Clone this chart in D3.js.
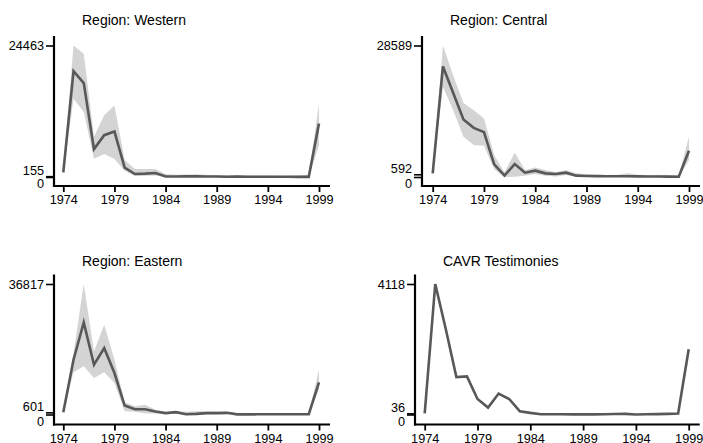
<!DOCTYPE html>
<html>
<head>
<meta charset="utf-8">
<script src="https://cdn.jsdelivr.net/npm/d3@7/dist/d3.min.js"></script>
<style>
  html, body { margin: 0; padding: 0; background: #fff; }
  svg { display: block; }
  .tick text { font-family: "Liberation Sans", Arial, sans-serif; font-size: 12.7px; fill: #000; }
  .title { font-family: "Liberation Sans", Arial, sans-serif; font-size: 14px; fill: #000; }
</style>
</head>
<body>
<svg id="chart" width="703" height="443"></svg>
<script>
// Years covered by every panel
const years = [1974, 1975, 1976, 1977, 1978, 1979, 1980, 1981, 1982, 1983, 1984, 1985, 1986,
               1987, 1988, 1989, 1990, 1991, 1992, 1993, 1994, 1995, 1996, 1997, 1998, 1999];
const xTickYears = [1974, 1979, 1984, 1989, 1994, 1999];

// Region: Western — estimate with lower / upper bounds
const westernEst   = [850, 19700, 17480, 5190, 7780, 8460, 1730, 560, 620, 740, 100, 100, 110,
                      110, 90, 80, 60, 70, 60, 50, 50, 40, 40, 30, 30, 9950];
const westernLow   = [500, 14580, 12110, 3400, 4260, 3340, 1170, 250, 250, 300, 0, 0, 0,
                      0, 0, 0, 0, 0, 0, 0, 0, 0, 0, 0, 0, 5930];
const westernHigh  = [1400, 24463, 22920, 7480, 11490, 13280, 3150, 1480, 1480, 1480, 560, 400, 450,
                      500, 400, 380, 300, 350, 300, 280, 260, 250, 240, 300, 450, 13650];
const westernTicks = [0, 155, 24463];

// Region: Central
const centralEst   = [800, 24040, 18270, 12490, 10690, 9750, 2740, 290, 2820, 940, 1370, 790, 650,
                      940, 290, 220, 180, 160, 160, 150, 130, 120, 100, 80, 60, 5700];
const centralLow   = [500, 19570, 14510, 8740, 6930, 6790, 1660, 0, 70, 290, 650, 290, 100,
                      430, 50, 20, 10, 10, 10, 10, 10, 0, 0, 0, 0, 3680];
const centralHigh  = [1200, 28589, 22090, 16100, 14510, 12710, 4770, 1010, 5270, 1520, 2090, 1520, 1010,
                      1520, 790, 580, 500, 450, 500, 790, 500, 450, 500, 400, 300, 8740];
const centralTicks = [0, 592, 28589];

// Region: Eastern
const easternEst   = [601, 15460, 25950, 14050, 18740, 11710, 2530, 1500, 1500, 840, 380, 660, 90,
                      190, 380, 380, 470, 40, 40, 50, 60, 70, 80, 90, 100, 9090];
const easternLow   = [300, 11900, 13580, 10300, 11900, 8900, 940, 750, 280, 280, 100, 200, 0,
                      0, 50, 50, 100, 0, 0, 0, 0, 0, 0, 0, 0, 7030];
const easternHigh  = [900, 17330, 36817, 17800, 25290, 15460, 3470, 2340, 2720, 1310, 660, 940, 800,
                      900, 900, 850, 800, 300, 250, 250, 250, 250, 300, 300, 400, 12650];
const easternTicks = [0, 601, 36817];

// CAVR testimonies — counts only, no interval
const cavrCounts   = [36, 4118, 2690, 1180, 1200, 490, 220, 660, 490, 105, 52, 10, 8,
                      6, 5, 4, 3, 10, 15, 20, 2, 8, 12, 20, 31, 2060];
const cavrTicks    = [0, 36, 4118];

const panels = [
  { title: "Region: Western", est: westernEst, low: westernLow, high: westernHigh, ticks: westernTicks,
    axisX: 54, x0: 63.3, x1: 319, yTop: 45.5, yZero: 177, axisY: 186, titleY: 24.5 },
  { title: "Region: Central", est: centralEst, low: centralLow, high: centralHigh, ticks: centralTicks,
    axisX: 422, x0: 432.7, x1: 689, yTop: 45.5, yZero: 177, axisY: 186, titleY: 24.5 },
  { title: "Region: Eastern", est: easternEst, low: easternLow, high: easternHigh, ticks: easternTicks,
    axisX: 54, x0: 63.3, x1: 319, yTop: 284, yZero: 414.5, axisY: 424.5, titleY: 265.5 },
  { title: "CAVR Testimonies", est: cavrCounts, low: null, high: null, ticks: cavrTicks,
    axisX: 415, x0: 424.7, x1: 688.7, yTop: 284, yZero: 414.5, axisY: 424.5, titleY: 265.5 }
];

const svg = d3.select("#chart");

panels.forEach(p => {
  const g = svg.append("g");
  const x = d3.scaleLinear().domain([1974, 1999]).range([p.x0, p.x1]);
  const y = d3.scaleLinear().domain([0, p.ticks[2]]).range([p.yZero, p.yTop]);

  // uncertainty band
  if (p.low) {
    const area = d3.area()
      .x((d, i) => x(years[i]))
      .y0((d, i) => y(p.low[i]))
      .y1((d, i) => y(p.high[i]));
    g.append("path").datum(p.est).attr("d", area)
      .attr("fill", "#d4d4d4").attr("stroke", "none");
  }

  // estimate line
  const line = d3.line().x((d, i) => x(years[i])).y(d => y(d));
  g.append("path").datum(p.est).attr("d", line)
    .attr("fill", "none").attr("stroke", "#585858")
    .attr("stroke-width", 2.6).attr("stroke-linejoin", "miter");

  // y axis (offset spine)
  const yAx = g.append("g").attr("transform", `translate(${p.axisX},0)`)
    .call(d3.axisLeft(y).tickValues(p.ticks).tickSize(8).tickPadding(2).tickFormat(d3.format("d")));
  yAx.select(".domain").remove();
  yAx.selectAll(".tick line").attr("stroke", "#000").attr("stroke-width", 1.6);
  yAx.selectAll(".tick text").attr("dy", d => d === 0 ? "0.85em" : (d === p.ticks[1] ? "-0.12em" : "0.32em"));
  g.append("line")
    .attr("x1", p.axisX).attr("x2", p.axisX)
    .attr("y1", p.yTop - 9.5).attr("y2", p.axisY + 1)
    .attr("stroke", "#000").attr("stroke-width", 2.2);

  // x axis (offset spine)
  const xAx = g.append("g").attr("transform", `translate(0,${p.axisY})`)
    .call(d3.axisBottom(x).tickValues(xTickYears).tickSize(6).tickPadding(3).tickFormat(d3.format("d")));
  xAx.select(".domain").remove();
  xAx.selectAll(".tick line").attr("stroke", "#000").attr("stroke-width", 1.8);
  g.append("line")
    .attr("x1", p.axisX - 1).attr("x2", p.x1 + 11)
    .attr("y1", p.axisY).attr("y2", p.axisY)
    .attr("stroke", "#000").attr("stroke-width", 2.2);

  g.append("text").attr("class", "title")
    .attr("x", p.axisX + 28).attr("y", p.titleY)
    .text(p.title);
});
</script>
</body>
</html>
